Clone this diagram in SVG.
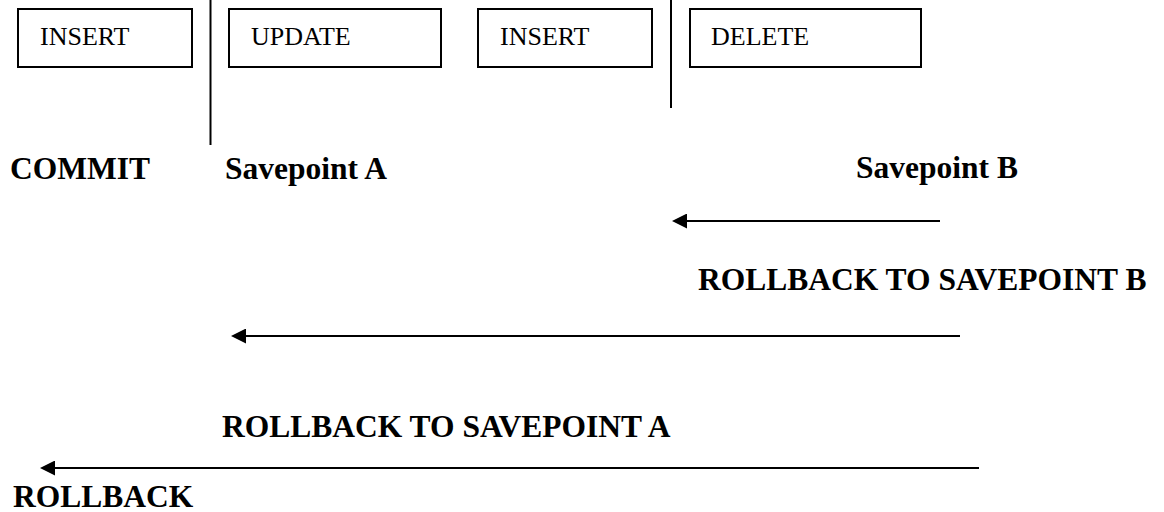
<svg xmlns="http://www.w3.org/2000/svg" width="1164" height="512" viewBox="0 0 1164 512">
  <style>
    .box { fill: #fff; stroke: #000; stroke-width: 2; }
    .btxt { font-family: "Liberation Serif", "Times New Roman", serif; font-size: 26px; fill: #000; }
    .lbl { font-family: "Liberation Serif", "Times New Roman", serif; font-size: 31.5px; font-weight: bold; fill: #000; }
    .sep { stroke: #000; stroke-width: 2; }
    .arr { stroke: #000; stroke-width: 2; fill: none; marker-end: url(#ah); }
  </style>
  <defs>
    <marker id="ah" markerUnits="userSpaceOnUse" markerWidth="15" markerHeight="15" viewBox="0 0 15 15" refX="7" refY="7.5" orient="auto">
      <path d="M0,0 L15,7.5 L0,15 z" fill="#000"/>
    </marker>
  </defs>
  <rect width="1164" height="512" fill="#fff"/>

  <g id="insert1">
    <rect class="box" x="18" y="9" width="174" height="58"/>
    <text class="btxt" x="40" y="45">INSERT</text>
  </g>
  <g id="update">
    <rect class="box" x="229" y="9" width="212" height="58"/>
    <text class="btxt" x="251" y="45">UPDATE</text>
  </g>
  <g id="insert2">
    <rect class="box" x="478" y="9" width="174" height="58"/>
    <text class="btxt" x="500" y="45">INSERT</text>
  </g>
  <g id="delete">
    <rect class="box" x="690" y="9" width="231" height="58"/>
    <text class="btxt" x="711" y="45">DELETE</text>
  </g>

  <g id="separatorA">
    <line class="sep" x1="210.5" y1="0" x2="210.5" y2="145"/>
  </g>
  <g id="separatorB">
    <line class="sep" x1="671" y1="0" x2="671" y2="108"/>
  </g>

  <g id="commit"><text class="lbl" x="10" y="179">COMMIT</text></g>
  <g id="savepointA"><text class="lbl" x="225" y="179">Savepoint A</text></g>
  <g id="savepointB"><text class="lbl" x="856" y="178">Savepoint B</text></g>
  <g id="rbB"><text class="lbl" x="698" y="290">ROLLBACK TO SAVEPOINT B</text></g>
  <g id="rbA"><text class="lbl" x="222" y="437">ROLLBACK TO SAVEPOINT A</text></g>
  <g id="rb"><text class="lbl" x="13" y="507">ROLLBACK</text></g>

  <g id="connectors">
    <line class="arr" x1="940" y1="221" x2="680" y2="221"/>
    <line class="arr" x1="960" y1="336" x2="239" y2="336"/>
    <line class="arr" x1="979" y1="468" x2="48" y2="468"/>
  </g>
</svg>
